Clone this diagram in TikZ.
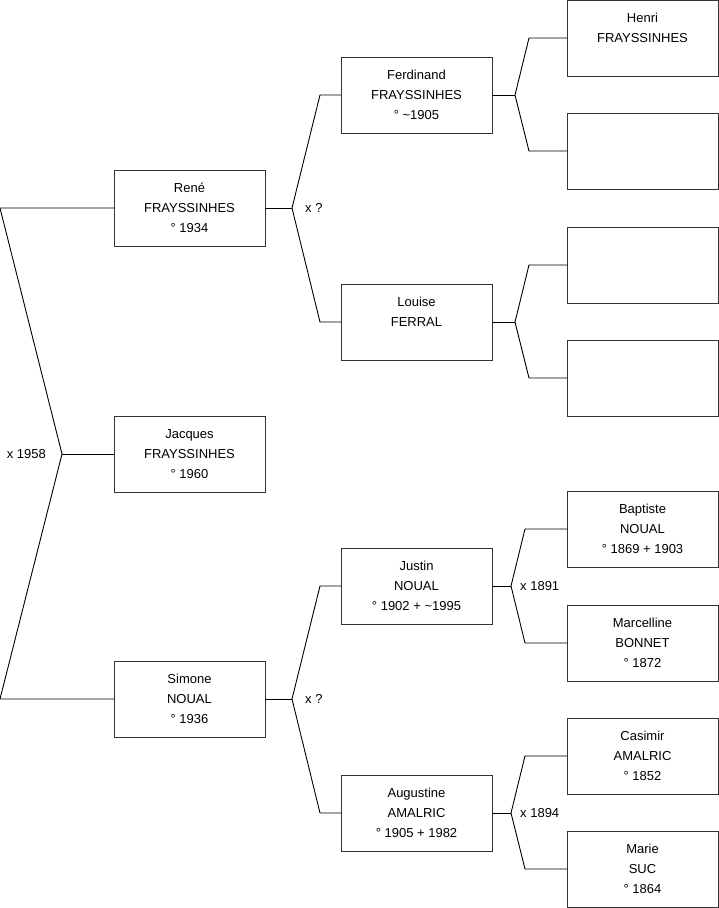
\documentclass[tikz,border=0pt]{standalone}
\usepackage{fontspec}
\setmainfont{Liberation Sans}
\usetikzlibrary{positioning}

\begin{document}
\begin{tikzpicture}[x=1pt,y=-1pt,
        person/.style={draw=black!80,line width=1pt,rectangle,
                       minimum width=151pt,minimum height=76pt,
                       outer sep=0pt,inner sep=0pt,align=center,
                       font=\fontsize{13}{20}\selectfont},
        link/.style={draw,-,line width=0.9pt},
        union/.style={inner sep=0pt,font=\fontsize{13}{16}\selectfont}
      ]
        \useasboundingbox (0,0) rectangle (719,908);
        % first column
        \node[person] (rene) at (189.5,208){René\\FRAYSSINHES\\° 1934};
        \node[person] (jacques) at (189.5,454){Jacques\\FRAYSSINHES\\° 1960};
        \node[person] (simone) at (189.5,699){Simone\\NOUAL\\° 1936};
        % parents
        \node[person] (ferdinand) at (416.5,95){Ferdinand\\FRAYSSINHES\\° \textasciitilde1905};
        \node[person] (louise) at (416.5,322){Louise\\FERRAL\\\mbox{}};
        \node[person] (justin) at (416.5,586){Justin\\NOUAL\\° 1902 + \textasciitilde1995};
        \node[person] (augustine) at (416.5,813){Augustine\\AMALRIC\\° 1905 + 1982};
        % grandparents
        \node[person] (henri) at (642.5,38){Henri\\FRAYSSINHES\\\mbox{}};
        \node[person] (ferdmother) at (642.5,151){};
        \node[person] (louisefather) at (642.5,265){};
        \node[person] (louisemother) at (642.5,378){};
        \node[person] (baptiste) at (642.5,529){Baptiste\\NOUAL\\° 1869 + 1903};
        \node[person] (marcelline) at (642.5,643){Marcelline\\BONNET\\° 1872};
        \node[person] (casimir) at (642.5,756){Casimir\\AMALRIC\\° 1852};
        \node[person] (marie) at (642.5,869){Marie\\SUC\\° 1864};
        % forks
        \coordinate (f0) at (62,454);
        \coordinate (f1) at (292,208);
        \coordinate (f2) at (292,699);
        \coordinate (f3) at (515,95);
        \coordinate (f4) at (515,322);
        \coordinate (f5) at (511,586);
        \coordinate (f6) at (511,813);
        \draw[link](rene.west)--([xshift=-114pt]rene.west)--(f0)
          --([xshift=-114pt]simone.west)--(simone.west);
        \draw[link](f0)--(jacques.west);
        \node[union,left=16pt of f0] (u0){x 1958};
        \draw[link](ferdinand.west)--([xshift=-21pt]ferdinand.west)--(f1)
          --([xshift=-21pt]louise.west)--(louise.west);
        \draw[link](rene.east)--(f1);
        \node[union,right=13pt of f1] (u1){x ?};
        \draw[link](justin.west)--([xshift=-21pt]justin.west)--(f2)
          --([xshift=-21pt]augustine.west)--(augustine.west);
        \draw[link](simone.east)--(f2);
        \node[union,right=13pt of f2] (u2){x ?};
        \draw[link](henri.west)--([xshift=-38pt]henri.west)--(f3)
          --([xshift=-38pt]ferdmother.west)--(ferdmother.west);
        \draw[link](ferdinand.east)--(f3);
        \draw[link](louisefather.west)--([xshift=-38pt]louisefather.west)--(f4)
          --([xshift=-38pt]louisemother.west)--(louisemother.west);
        \draw[link](louise.east)--(f4);
        \draw[link](baptiste.west)--([xshift=-42pt]baptiste.west)--(f5)
          --([xshift=-42pt]marcelline.west)--(marcelline.west);
        \draw[link](justin.east)--(f5);
        \node[union,right=9pt of f5] (u5){x 1891};
        \draw[link](casimir.west)--([xshift=-42pt]casimir.west)--(f6)
          --([xshift=-42pt]marie.west)--(marie.west);
        \draw[link](augustine.east)--(f6);
        \node[union,right=9pt of f6] (u6){x 1894};
      \end{tikzpicture}
\end{document}
